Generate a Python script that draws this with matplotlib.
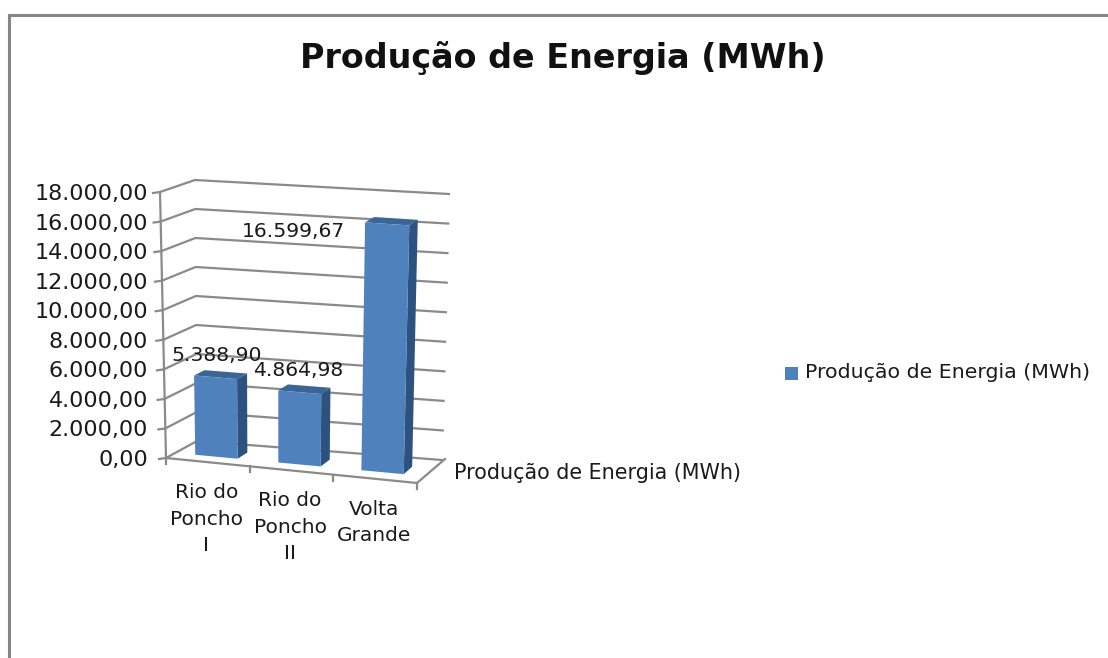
import numpy as np
import matplotlib
matplotlib.use("Agg")
import matplotlib.pyplot as plt
from matplotlib.patches import Polygon, Rectangle

title = "Produção de Energia (MWh)"
series_name = "Produção de Energia (MWh)"
categories = ["Rio do\nPoncho\nI", "Rio do\nPoncho\nII", "Volta\nGrande"]
values = [5388.90, 4864.98, 16599.67]
y_ticks = [0, 2000, 4000, 6000, 8000, 10000, 12000, 14000, 16000, 18000]
y_max = 18000

# corners of the 3d box in pixels: [bottom, top]
front_l = np.array([[166, 458], [160, 192]], float)
front_r = np.array([[417, 483], [424, 211]], float)
back_l = np.array([[197, 441], [195, 180]], float)
back_r = np.array([[442, 460], [449, 194]], float)

blue_front = "#4F81BD"
blue_side = "#2E5280"
blue_top = "#3A6596"
grid_col = "#8A8A8A"
text_col = "#1a1a1a"


def fmt(v):
    return f"{v:,.2f}".replace(",", "#").replace(".", ",").replace("#", ".")


def proj(x, d, v):
    # x in category units, d depth 0..1, v data value
    u = x / len(categories)
    t = v / y_max
    fl = front_l[0] + (front_l[1] - front_l[0]) * t
    fr = front_r[0] + (front_r[1] - front_r[0]) * t
    bl = back_l[0] + (back_l[1] - back_l[0]) * t
    br = back_r[0] + (back_r[1] - back_r[0]) * t
    f = fl + (fr - fl) * u
    b = bl + (br - bl) * u
    return f + (b - f) * d


fig = plt.figure(figsize=(11.08, 6.58), dpi=100, facecolor="white")
ax = fig.add_axes([0, 0, 1, 1])
ax.set_xlim(0, 1108)
ax.set_ylim(658, 0)
ax.axis("off")

# outer chart frame
ax.plot([9, 9, 1108], [658, 15, 15], color="#858585", lw=2.2, solid_joinstyle="miter")

ax.text(563, 58, title, ha="center", va="center", fontsize=24, fontweight="bold", color="#111111")

n = len(categories)

# gridlines, back wall and left wall
for tv in y_ticks:
    a, b, c = proj(0, 0, tv), proj(0, 1, tv), proj(n, 1, tv)
    if tv == 0:
        continue
    ax.plot([a[0], b[0], c[0]], [a[1], b[1], c[1]], color=grid_col, lw=1.6)
    ax.plot([a[0] - 7, a[0]], [a[1] + 1, a[1]], color=grid_col, lw=1.6)

# floor + axes
a, b, c = proj(0, 0, 0), proj(n, 0, 0), proj(n, 1, 0)
ax.plot([a[0], b[0], c[0] + 3], [a[1], b[1], c[1] - 1], color=grid_col, lw=1.6)
left_back = proj(0, 1, 0)
ax.plot([a[0], left_back[0]], [a[1], left_back[1]], color=grid_col, lw=1.6)
ax.plot([left_back[0], c[0]], [left_back[1], c[1]], color=grid_col, lw=1.6)
top = proj(0, 0, y_max)
ax.plot([a[0], top[0]], [a[1], top[1]], color=grid_col, lw=1.6)
ax.plot([a[0] - 7, a[0]], [a[1] + 1, a[1]], color=grid_col, lw=1.6)
for i in range(n + 1):
    p = proj(i, 0, 0)
    ax.plot([p[0], p[0]], [p[1], p[1] + 6], color=grid_col, lw=1.6)

# y tick labels
for tv in y_ticks:
    p = proj(0, 0, tv)
    ax.text(148, p[1] + 2, fmt(tv), ha="right", va="center", fontsize=16, color=text_col)

# bars
x0, x1 = 0.24, 0.75
d0, d1 = 0.30, 0.63
for i, v in enumerate(values):
    fbl, fbr = proj(i + x0, d0, 0), proj(i + x1, d0, 0)
    ftl, ftr = proj(i + x0, d0, v), proj(i + x1, d0, v)
    bbr = proj(i + x1, d1, 0)
    btl, btr = proj(i + x0, d1, v), proj(i + x1, d1, v)
    ax.add_patch(Polygon([fbr, bbr, btr, ftr], fc=blue_side, ec="none", zorder=3))
    ax.add_patch(Polygon([ftl, ftr, btr, btl], fc=blue_top, ec="none", zorder=3))
    ax.add_patch(Polygon([fbl, fbr, ftr, ftl], fc=blue_front, ec="none", zorder=3))

# data labels
label_off = [(0.5, -22), (-2, -22), (-94, 8)]
for i, v in enumerate(values):
    p = proj(i + 0.5, d0, v)
    dx, dy = label_off[i]
    ax.text(p[0] + dx, p[1] + dy, fmt(v), ha="center", va="center", fontsize=14.7, color=text_col, zorder=4)

# category labels
for i, c in enumerate(categories):
    p = proj(i + 0.5, 0, 0)
    ax.text(p[0] - 1.5, p[1] + 21, c, ha="center", va="top", fontsize=14.5, color=text_col,
            linespacing=1.49, zorder=4)

# series name on the depth axis
ax.text(454, 473, series_name, ha="left", va="center", fontsize=14.85, color=text_col)

# legend
ax.add_patch(Rectangle((785, 367), 13, 13, fc=blue_front, ec="none"))
ax.text(805, 373, series_name, ha="left", va="center", fontsize=14.75, color=text_col)

fig.savefig("out.png", dpi=100)
